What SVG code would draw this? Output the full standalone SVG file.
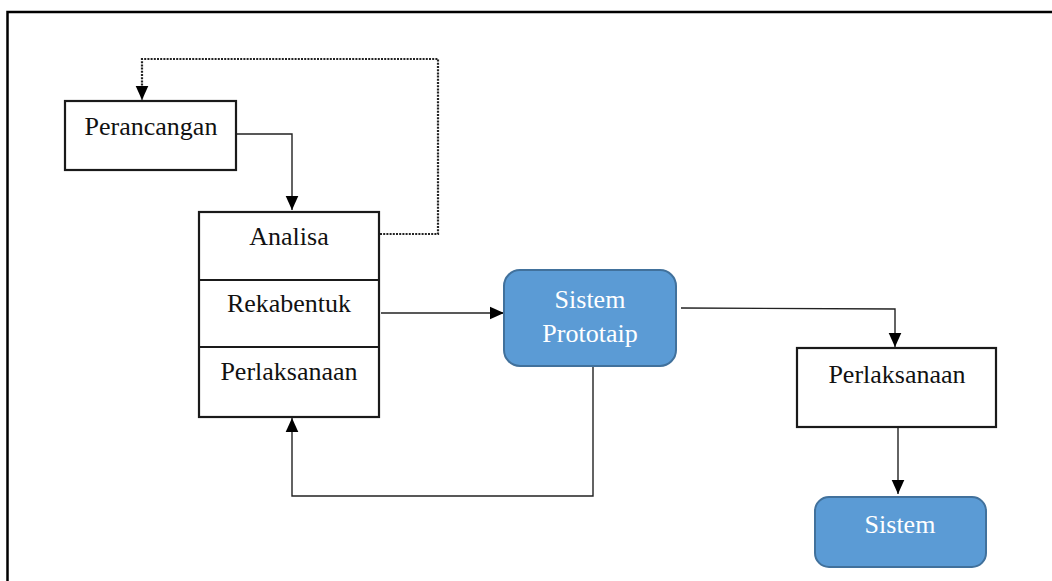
<svg xmlns="http://www.w3.org/2000/svg" width="1052" height="581" viewBox="0 0 1052 581">
<style>
.box{fill:#fff;stroke:#1a1a1a;stroke-width:2.2}
.blue{fill:#5B9BD5;stroke:#41719C;stroke-width:2}
.t{font-family:"Liberation Serif","Times New Roman",serif;font-size:26px;fill:#111;text-anchor:middle}
.tw{font-family:"Liberation Serif","Times New Roman",serif;font-size:26px;fill:#fff;text-anchor:middle}
.ln{fill:none;stroke:#222;stroke-width:1.4}
.dot{fill:none;stroke:#222;stroke-width:2.2;stroke-dasharray:2 1.2}
</style>
<defs>
<marker id="ah" viewBox="0 0 10 10" refX="10" refY="5" markerWidth="14" markerHeight="14" markerUnits="userSpaceOnUse" orient="auto">
<path d="M0,0.5 L10,5 L0,9.5 z" fill="#000"/>
</marker>
</defs>
<rect width="1052" height="581" fill="#fff"/>
<path d="M7.5,581 V12 H1052" fill="none" stroke="#000" stroke-width="2.5"/>
<g id="connectors">
<path class="dot" d="M380,234 H438 V59 H142 V100" marker-end="url(#ah)"/>
<path class="ln" d="M237,134 H292 V210" marker-end="url(#ah)"/>
<path class="ln" d="M381,313 H504" marker-end="url(#ah)"/>
<path class="ln" d="M681,308 L895,309 V347" marker-end="url(#ah)"/>
<path class="ln" d="M898,428 V494" marker-end="url(#ah)"/>
<path class="ln" d="M593,367 V496 H292 V418" marker-end="url(#ah)"/>
</g>
<g id="perancangan">
<rect class="box" x="65" y="101" width="171" height="69"/>
<text class="t" x="151" y="135">Perancangan</text>
</g>
<g id="stack">
<rect class="box" x="199" y="212" width="180" height="205"/>
<line x1="199" y1="280" x2="379" y2="280" stroke="#1a1a1a" stroke-width="2"/>
<line x1="199" y1="347" x2="379" y2="347" stroke="#1a1a1a" stroke-width="2"/>
<text class="t" x="289" y="245">Analisa</text>
<text class="t" x="289" y="312">Rekabentuk</text>
<text class="t" x="289" y="380">Perlaksanaan</text>
</g>
<g id="prototaip">
<rect class="blue" x="504" y="270" width="172" height="96" rx="16"/>
<text class="tw" x="590" y="308">Sistem</text>
<text class="tw" x="590" y="342">Prototaip</text>
</g>
<g id="perlaksanaan2">
<rect class="box" x="797" y="348" width="199" height="79"/>
<text class="t" x="897" y="383">Perlaksanaan</text>
</g>
<g id="sistem">
<rect class="blue" x="815" y="497" width="171" height="70" rx="14"/>
<text class="tw" x="900" y="533">Sistem</text>
</g>
</svg>
